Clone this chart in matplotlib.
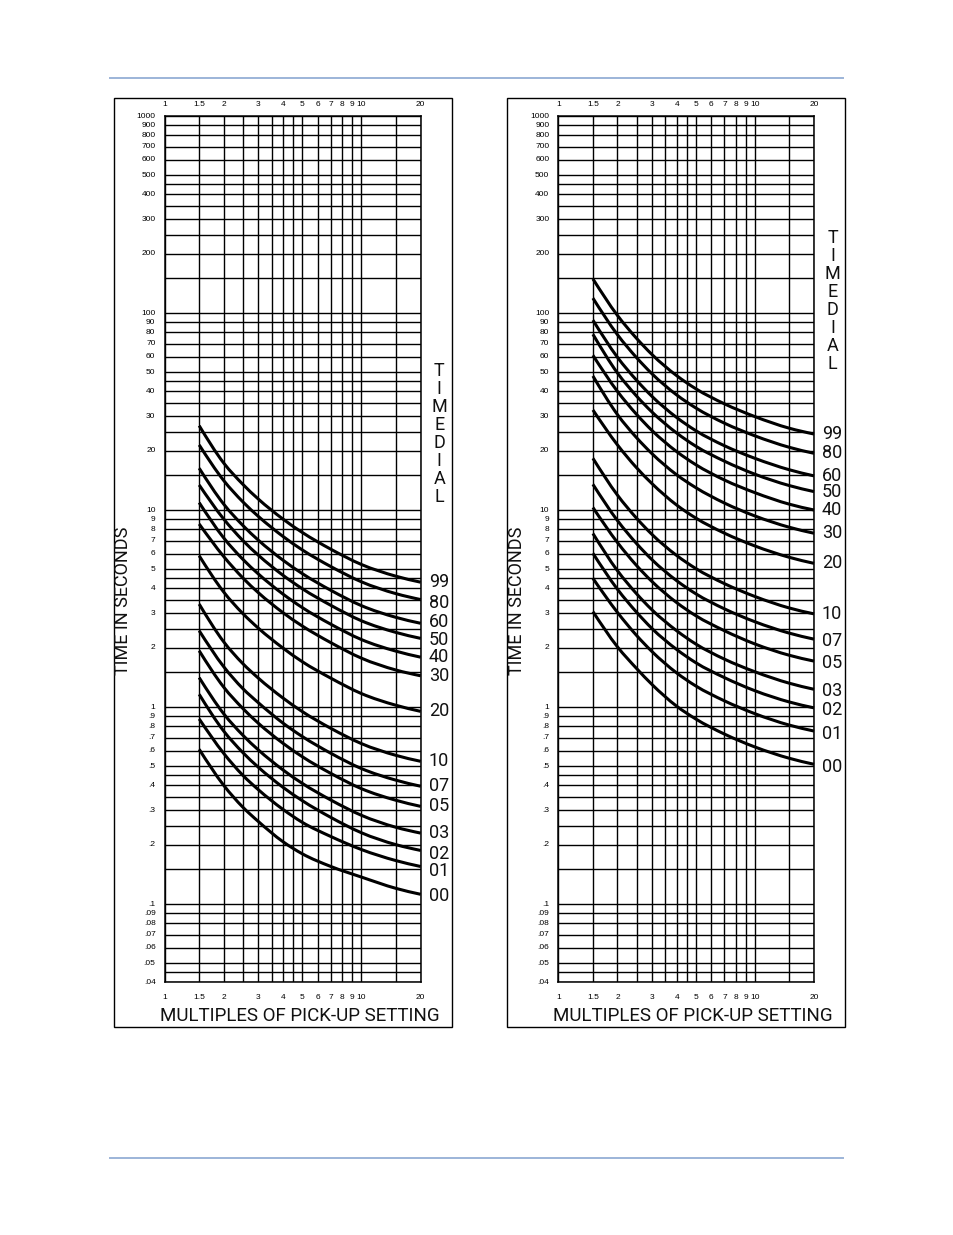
import matplotlib
matplotlib.use('Agg')
import numpy as np
import matplotlib.pyplot as plt
from matplotlib.patches import Rectangle, PathPatch
from matplotlib.lines import Line2D
from matplotlib.path import Path

W, H = 954, 1235

# ---------------- data ----------------
multiples = [1.5, 2, 2.5, 3, 4, 5, 7, 10, 15, 20]
dial_labels = ['99', '80', '60', '50', '40', '30', '20', '10', '07', '05', '03', '02', '01', '00']

left_curves = [
    [26.8, 17.3, 13.5, 11.35, 8.99, 7.70, 6.32, 5.29, 4.61, 4.30],
    [21.4, 14.1, 11.0, 9.27, 7.34, 6.28, 5.16, 4.32, 3.76, 3.51],
    [16.3, 10.7, 8.35, 7.02, 5.56, 4.76, 3.91, 3.27, 2.85, 2.66],
    [13.4, 8.99, 7.00, 5.89, 4.66, 3.99, 3.28, 2.74, 2.39, 2.23],
    [10.9, 7.21, 5.62, 4.73, 3.74, 3.20, 2.63, 2.20, 1.92, 1.79],
    [8.49, 5.80, 4.52, 3.80, 3.01, 2.58, 2.12, 1.77, 1.54, 1.44],
    [5.86, 3.83, 2.98, 2.51, 1.99, 1.70, 1.40, 1.17, 1.02, 0.95],
    [3.33, 2.14, 1.66, 1.40, 1.11, 0.949, 0.779, 0.652, 0.568, 0.53],
    [2.44, 1.60, 1.24, 1.05, 0.828, 0.709, 0.582, 0.487, 0.425, 0.396],
    [1.93, 1.26, 0.983, 0.826, 0.654, 0.560, 0.460, 0.385, 0.336, 0.313],
    [1.41, 0.923, 0.719, 0.605, 0.479, 0.410, 0.337, 0.282, 0.245, 0.229],
    [1.16, 0.754, 0.587, 0.494, 0.391, 0.335, 0.275, 0.230, 0.200, 0.187],
    [0.87, 0.581, 0.450, 0.380, 0.302, 0.260, 0.220, 0.189, 0.166, 0.155],
    [0.61, 0.40, 0.31, 0.262, 0.207, 0.18, 0.155, 0.137, 0.120, 0.112],
]

right_curves = [
    [149, 97.2, 74.4, 61.5, 48.1, 41.3, 34.6, 29.8, 26.0, 24.3],
    [119, 77.6, 59.4, 49.1, 38.4, 33.0, 27.6, 23.8, 20.8, 19.4],
    [92, 59.6, 45.6, 37.7, 29.5, 25.3, 21.2, 18.3, 16.0, 14.9],
    [78, 49.6, 37.9, 31.4, 24.6, 21.1, 17.7, 15.2, 13.3, 12.4],
    [61, 40.0, 30.6, 25.3, 19.8, 17.0, 14.2, 12.25, 10.7, 10.0],
    [47.9, 30.5, 23.3, 19.3, 15.1, 13.0, 10.85, 9.33, 8.17, 7.62],
    [32.2, 21.4, 16.4, 13.6, 10.6, 9.11, 7.63, 6.57, 5.75, 5.36],
    [18.3, 11.9, 9.09, 7.51, 5.88, 5.05, 4.23, 3.64, 3.18, 2.97],
    [13.5, 8.84, 6.76, 5.59, 4.38, 3.76, 3.15, 2.71, 2.37, 2.21],
    [10.3, 6.84, 5.23, 4.33, 3.39, 2.91, 2.44, 2.09, 1.83, 1.71],
    [7.6, 4.92, 3.76, 3.11, 2.44, 2.09, 1.75, 1.51, 1.32, 1.23],
    [6.03, 3.96, 3.03, 2.50, 1.96, 1.68, 1.41, 1.21, 1.06, 0.99],
    [4.5, 3.02, 2.31, 1.91, 1.49, 1.28, 1.075, 0.925, 0.809, 0.755],
    [3.05, 2.02, 1.57, 1.30, 1.01, 0.87, 0.729, 0.627, 0.549, 0.512],
]

x_grid = [1, 1.5, 2, 2.5, 3, 3.5, 4, 4.5, 5, 6, 7, 8, 9, 10, 15, 20]
x_labels = ['1', '1.5', '2', '', '3', '', '4', '', '5', '6', '7', '8', '9', '10', '', '20']

decades = [0.01, 0.1, 1, 10, 100]
steps = [1, 1.5, 2, 2.5, 3, 3.5, 4, 4.5, 5, 6, 7, 8, 9]
labelled_steps = [1, 2, 3, 4, 5, 6, 7, 8, 9]


# ---------------- helpers ----------------
def fx(x):
    return x / W


def fy(y):
    return 1 - y / H


def fmt(v):
    if v >= 1:
        return '%d' % round(v)
    s = ('%g' % v)
    return s[1:] if s.startswith('0') else s


def smooth_path(xs, ys):
    """Cubic Bezier path through the points (log-log space)."""
    lx = np.log10(np.asarray(xs, float))
    ly = np.log10(np.asarray(ys, float))
    h = np.diff(lx)
    s = np.diff(ly) / h
    n = len(lx)
    d = np.zeros(n)
    for i in range(1, n - 1):
        d[i] = (h[i] * s[i - 1] + h[i - 1] * s[i]) / (h[i - 1] + h[i])
    d[0] = (3 * s[0] - d[1]) / 2
    d[-1] = (3 * s[-1] - d[-2]) / 2
    verts = [(lx[0], ly[0])]
    codes = [Path.MOVETO]
    for i in range(n - 1):
        verts.append((lx[i] + h[i] / 3, ly[i] + d[i] * h[i] / 3))
        verts.append((lx[i + 1] - h[i] / 3, ly[i + 1] - d[i + 1] * h[i] / 3))
        verts.append((lx[i + 1], ly[i + 1]))
        codes += [Path.CURVE4] * 3
    verts = np.power(10.0, np.array(verts))
    return Path(verts, codes)


y_grid = []
y_labels = []
for dcd in decades:
    for st in steps:
        v = round(dcd * st, 6)
        if 0.04 - 1e-9 <= v <= 1000 + 1e-9:
            y_grid.append(v)
            y_labels.append(fmt(v) if st in labelled_steps else '')
y_grid.append(1000)
y_labels.append('1000')

TXT = ['Roboto', 'DejaVu Sans']
TXTW = 'normal'
TXTC = '#111111'
TICKF = ['Liberation Sans', 'DejaVu Sans']

fig = plt.figure(figsize=(W / 100, H / 100), dpi=100)
fig.patch.set_facecolor('white')

# page rules
for yy in (77.5, 1158):
    fig.add_artist(Line2D([fx(110), fx(843)], [fy(yy), fy(yy)], color='#9cb4d8', lw=1.4))

grid_top, grid_bot = 116.0, 982.4


def panel(left_px, right_px, frame_l, frame_r, curves, nudges, dial_top):
    ax = fig.add_axes([fx(left_px), fy(grid_bot), (right_px - left_px) / W, (grid_bot - grid_top) / H])
    ax.set_xscale('log')
    ax.set_yscale('log')
    ax.set_xlim(1, 20)
    ax.set_ylim(0.04, 1000)
    ax.set_xticks([])
    ax.set_yticks([])
    ax.minorticks_off()
    for sp in ax.spines.values():
        sp.set_linewidth(1.1)
    for xv in x_grid:
        ax.axvline(xv, color='black', lw=1.0, zorder=1)
    for yv in y_grid:
        ax.axhline(yv, color='black', lw=1.0, zorder=1)
    for xv, lab in zip(x_grid, x_labels):
        if lab:
            ax.annotate(lab, xy=(xv, 1), xycoords=('data', 'axes fraction'), xytext=(0, 12),
                        textcoords='offset pixels', ha='center', va='center', fontsize=6,
                        family=TICKF, annotation_clip=False)
            ax.annotate(lab, xy=(xv, 0), xycoords=('data', 'axes fraction'), xytext=(0, -15),
                        textcoords='offset pixels', ha='center', va='center', fontsize=6,
                        family=TICKF, annotation_clip=False)
    for yv, lab in zip(y_grid, y_labels):
        if lab:
            ax.annotate(lab, xy=(0, yv), xycoords=('axes fraction', 'data'), xytext=(-9, 0),
                        textcoords='offset pixels', ha='right', va='center', fontsize=6,
                        family=TICKF, annotation_clip=False)
    for vals, lab, nd in zip(curves, dial_labels, nudges):
        patch = PathPatch(smooth_path(multiples, vals), fill=False, ec='black', lw=2.2,
                          capstyle='butt', joinstyle='round', zorder=3, clip_on=False)
        ax.add_patch(patch)
        ax.annotate(lab, xy=(20, vals[-1]), xytext=(8, -nd), textcoords='offset pixels',
                    ha='left', va='center', fontsize=13, family=TXT, fontweight=TXTW,
                    color=TXTC, annotation_clip=False)
    # frame
    fig.add_artist(Rectangle((fx(frame_l), fy(1027)), (frame_r - frame_l) / W, (1027 - 98) / H,
                             transform=fig.transFigure, fill=False, ec='black', lw=1.0))
    # TIME DIAL letters
    cx = right_px + 18.5
    for i, ch in enumerate('TIMEDIAL'):
        fig.text(fx(cx), fy(dial_top + i * 18.0), ch, ha='center', va='center',
                 fontsize=13, family=TXT, fontweight=TXTW, color=TXTC)
    # axis titles
    fig.text(fx(left_px - 41), fy(601), 'TIME IN SECONDS', rotation=90, ha='center', va='center',
             fontsize=13, family=TXT, fontweight=TXTW, color=TXTC)
    fig.text(fx((frame_l + frame_r) / 2 + 17), fy(1016), 'MULTIPLES OF PICK-UP SETTING',
             ha='center', va='center', fontsize=13.5, family=TXT, fontweight=TXTW, color=TXTC)
    return ax


left_nudges = [0, 3, -1.5, 1.5, 0, 0, 0, 0, 0, 0, 0, 3.5, 4.5, 2]
right_nudges = [0, 0, 0, 0, 0, 0, 0, 0, 2, 2, 2, 2, 3, 3]

panel(164.5, 420.7, 114, 452, left_curves, left_nudges, 371)
panel(558.3, 814.0, 507, 845, right_curves, right_nudges, 238)

fig.savefig('out.png', dpi=100, facecolor='white')
